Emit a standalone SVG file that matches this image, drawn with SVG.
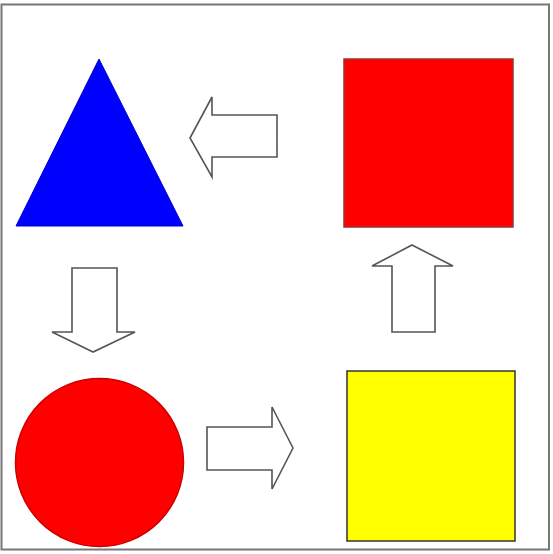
<svg xmlns="http://www.w3.org/2000/svg" width="553" height="554" viewBox="0 0 553 554">
<style>
.arrow{fill:#fff;stroke:#555;stroke-width:1.6;stroke-linejoin:miter}
</style>
<rect x="0" y="0" width="553" height="554" fill="#fff"/>
<rect x="1.5" y="4.5" width="547.5" height="545" fill="none" stroke="#777" stroke-width="2"/>
<g id="triangle"><polygon points="99,59 16,226 183,226" fill="#0000ff" stroke="#0000cc" stroke-width="1"/></g>
<g id="red-square"><rect x="344" y="59" width="169" height="168" fill="#ff0000" stroke="#993333" stroke-width="1.5"/></g>
<g id="circle"><circle cx="99.5" cy="462.5" r="84" fill="#ff0000" stroke="#cc0000" stroke-width="1.5"/></g>
<g id="yellow-square"><rect x="347" y="371" width="168" height="170" fill="#ffff00" stroke="#333" stroke-width="1.5"/></g>
<g id="connectors">
<polygon class="arrow" points="190,138 212,97 212,115 277,115 277,157 212,157 212,177"/>
<polygon class="arrow" points="93,352 52,332 72,332 72,268 117,268 117,332 135,332"/>
<polygon class="arrow" points="412,245 453,266 435,266 435,332 392,332 392,266 372,266"/>
<polygon class="arrow" points="293,448 272,407 272,427 207,427 207,470 272,470 272,489"/>
</g>
</svg>
